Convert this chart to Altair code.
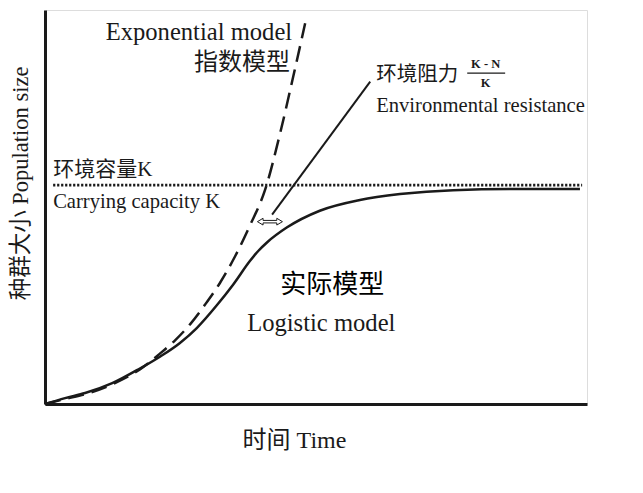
import altair as alt
import pandas as pd

# ---- data (time in arbitrary units 0-100, population with K = 100) ----
logistic_t = [0, 3.7, 7.4, 12.4, 17.5, 21.2, 24.9, 28.0, 31.7, 34.7, 37.8, 39.3, 41.0, 44.6, 50.7, 58.1, 65.5, 75.3, 87.6, 98.7]
logistic_n = [0, 2.7, 5.0, 9.5, 16.2, 21.6, 27.9, 34.7, 45.1, 54.5, 65.3, 69.8, 73.9, 80.6, 88.3, 93.2, 95.9, 97.7, 98.2, 98.2]

expo_t = [0, 3.7, 7.4, 12.4, 17.5, 21.2, 24.0, 26.8, 29.5, 32.3, 35.1, 37.8, 40.6, 43.4, 45.8, 48.0]
expo_n = [0, 2.3, 4.5, 9.0, 15.8, 23.0, 29.1, 36.5, 45.3, 55.4, 67.6, 81.5, 97.8, 123.9, 149.6, 173.9]

K = 100
k_t = [1.5, 99.1]

leader_t = [41.9, 60.0]
leader_n = [86.5, 147.3]

arrow_t = [41.5]
arrow_n = [83.3]

label_texts = ["Exponential model", "指数模型", "环境容量K", "Carrying capacity K",
               "环境阻力", "Environmental resistance", "Logistic model", "实际模型"]
label_t = [45.6, 45.2, 1.5, 1.5, 61.1, 61.1, 37.3, 43.4]
label_n = [166.2, 152.7, 104.1, 89.6, 147.7, 133.3, 33.3, 50.5]

frac_texts = ["K - N", "K"]
frac_t = [81.3, 81.3]
frac_n = [153.6, 144.6]
frac_bar_t = [77.9, 84.9]
frac_bar_n = [151.2]

FONT = "'Liberation Serif', 'Noto Sans CJK SC', serif"
INK = "#1a1a1a"

# styles per label (index-aligned with label_texts)
label_style = [
    dict(fontSize=24.6, align="right"),
    dict(fontSize=24, align="right"),
    dict(fontSize=21, align="left"),
    dict(fontSize=20.6, align="left"),
    dict(fontSize=20.5, align="left"),
    dict(fontSize=20.6, align="left"),
    dict(fontSize=24.6, align="left"),
    dict(fontSize=26, align="left", font="Noto Sans CJK SC", color="#000000"),
]

xs = alt.Scale(domain=[0, 100])
ys = alt.Scale(domain=[0, 177.5])

logistic_df = pd.DataFrame({"t": logistic_t, "n": logistic_n})
expo_df = pd.DataFrame({"t": expo_t, "n": expo_n})
k_df = pd.DataFrame({"t": k_t, "n": [K, K]})
leader_df = pd.DataFrame({"t": leader_t, "n": leader_n})
arrow_df = pd.DataFrame({"t": arrow_t, "n": arrow_n})
label_df = pd.DataFrame({"text": label_texts, "t": label_t, "n": label_n,
                         "i": list(range(len(label_texts)))})
frac_df = pd.DataFrame({"text": frac_texts, "t": frac_t, "n": frac_n})
fbar_df = pd.DataFrame({"t": [frac_bar_t[0]], "t2": [frac_bar_t[1]], "n": frac_bar_n})

x_enc = alt.X("t:Q", scale=xs, axis=alt.Axis(
    title="时间 Time", grid=False, ticks=False, labels=False,
    domainWidth=3, domainColor=INK, titleFont=FONT, titleFontSize=24,
    titleFontWeight="normal", titleColor=INK, titleX=249, titleY=43,
    titleAlign="center", titleBaseline="alphabetic"))
y_enc = alt.Y("n:Q", scale=ys, axis=alt.Axis(
    title="种群大小 Population size", grid=False, ticks=False, labels=False,
    domainWidth=3, domainColor=INK, titleFont=FONT, titleFontSize=22.5,
    titleFontWeight="normal", titleColor=INK, titleX=-25, titleY=173,
    titleAlign="center", titleBaseline="middle", titleAngle=270))

logistic = alt.Chart(logistic_df).mark_line(
    color=INK, strokeWidth=2.5, interpolate="monotone").encode(x=x_enc, y=y_enc)

expo = alt.Chart(expo_df).mark_line(
    color=INK, strokeWidth=2.5, strokeDash=[16, 8], interpolate="monotone").encode(x="t:Q", y="n:Q")

kline = alt.Chart(k_df).mark_line(
    color=INK, strokeWidth=2.6, strokeDash=[2.2, 1.8]).encode(x="t:Q", y="n:Q")

leader = alt.Chart(leader_df).mark_line(color=INK, strokeWidth=2).encode(x="t:Q", y="n:Q")

arrow_path = ("M-1,0 L-0.55,-0.27 L-0.55,-0.1 L0.55,-0.1 L0.55,-0.27 L1,0 "
              "L0.55,0.27 L0.55,0.1 L-0.55,0.1 L-0.55,0.27 Z")
arrow = alt.Chart(arrow_df).mark_point(
    shape=arrow_path, size=625, filled=True, fill="white", stroke=INK,
    strokeWidth=1, opacity=1).encode(x="t:Q", y="n:Q")

label_layers = []
for i, st in enumerate(label_style):
    props = dict(font=FONT, color=INK, baseline="alphabetic")
    props.update(st)
    label_layers.append(
        alt.Chart(label_df).transform_filter(alt.datum.i == i).mark_text(**props)
        .encode(x="t:Q", y="n:Q", text="text:N"))

frac = alt.Chart(frac_df).mark_text(
    font="Liberation Serif", fontSize=12.5, fontWeight="bold", color=INK,
    align="center", baseline="alphabetic").encode(x="t:Q", y="n:Q", text="text:N")

fbar = alt.Chart(fbar_df).mark_rule(color=INK, strokeWidth=1.2).encode(
    x="t:Q", x2="t2:Q", y="n:Q")

chart = alt.layer(logistic, expo, kline, leader, arrow, *label_layers, frac, fbar).properties(
    width=542, height=394,
    autosize=alt.AutoSizeParams(type="none"),
    padding={"left": 37, "top": 2, "right": 20, "bottom": 75},
).configure_view(stroke=None).configure(background="white")

chart.save("out.html", embed_options={"renderer": "svg", "actions": False})
